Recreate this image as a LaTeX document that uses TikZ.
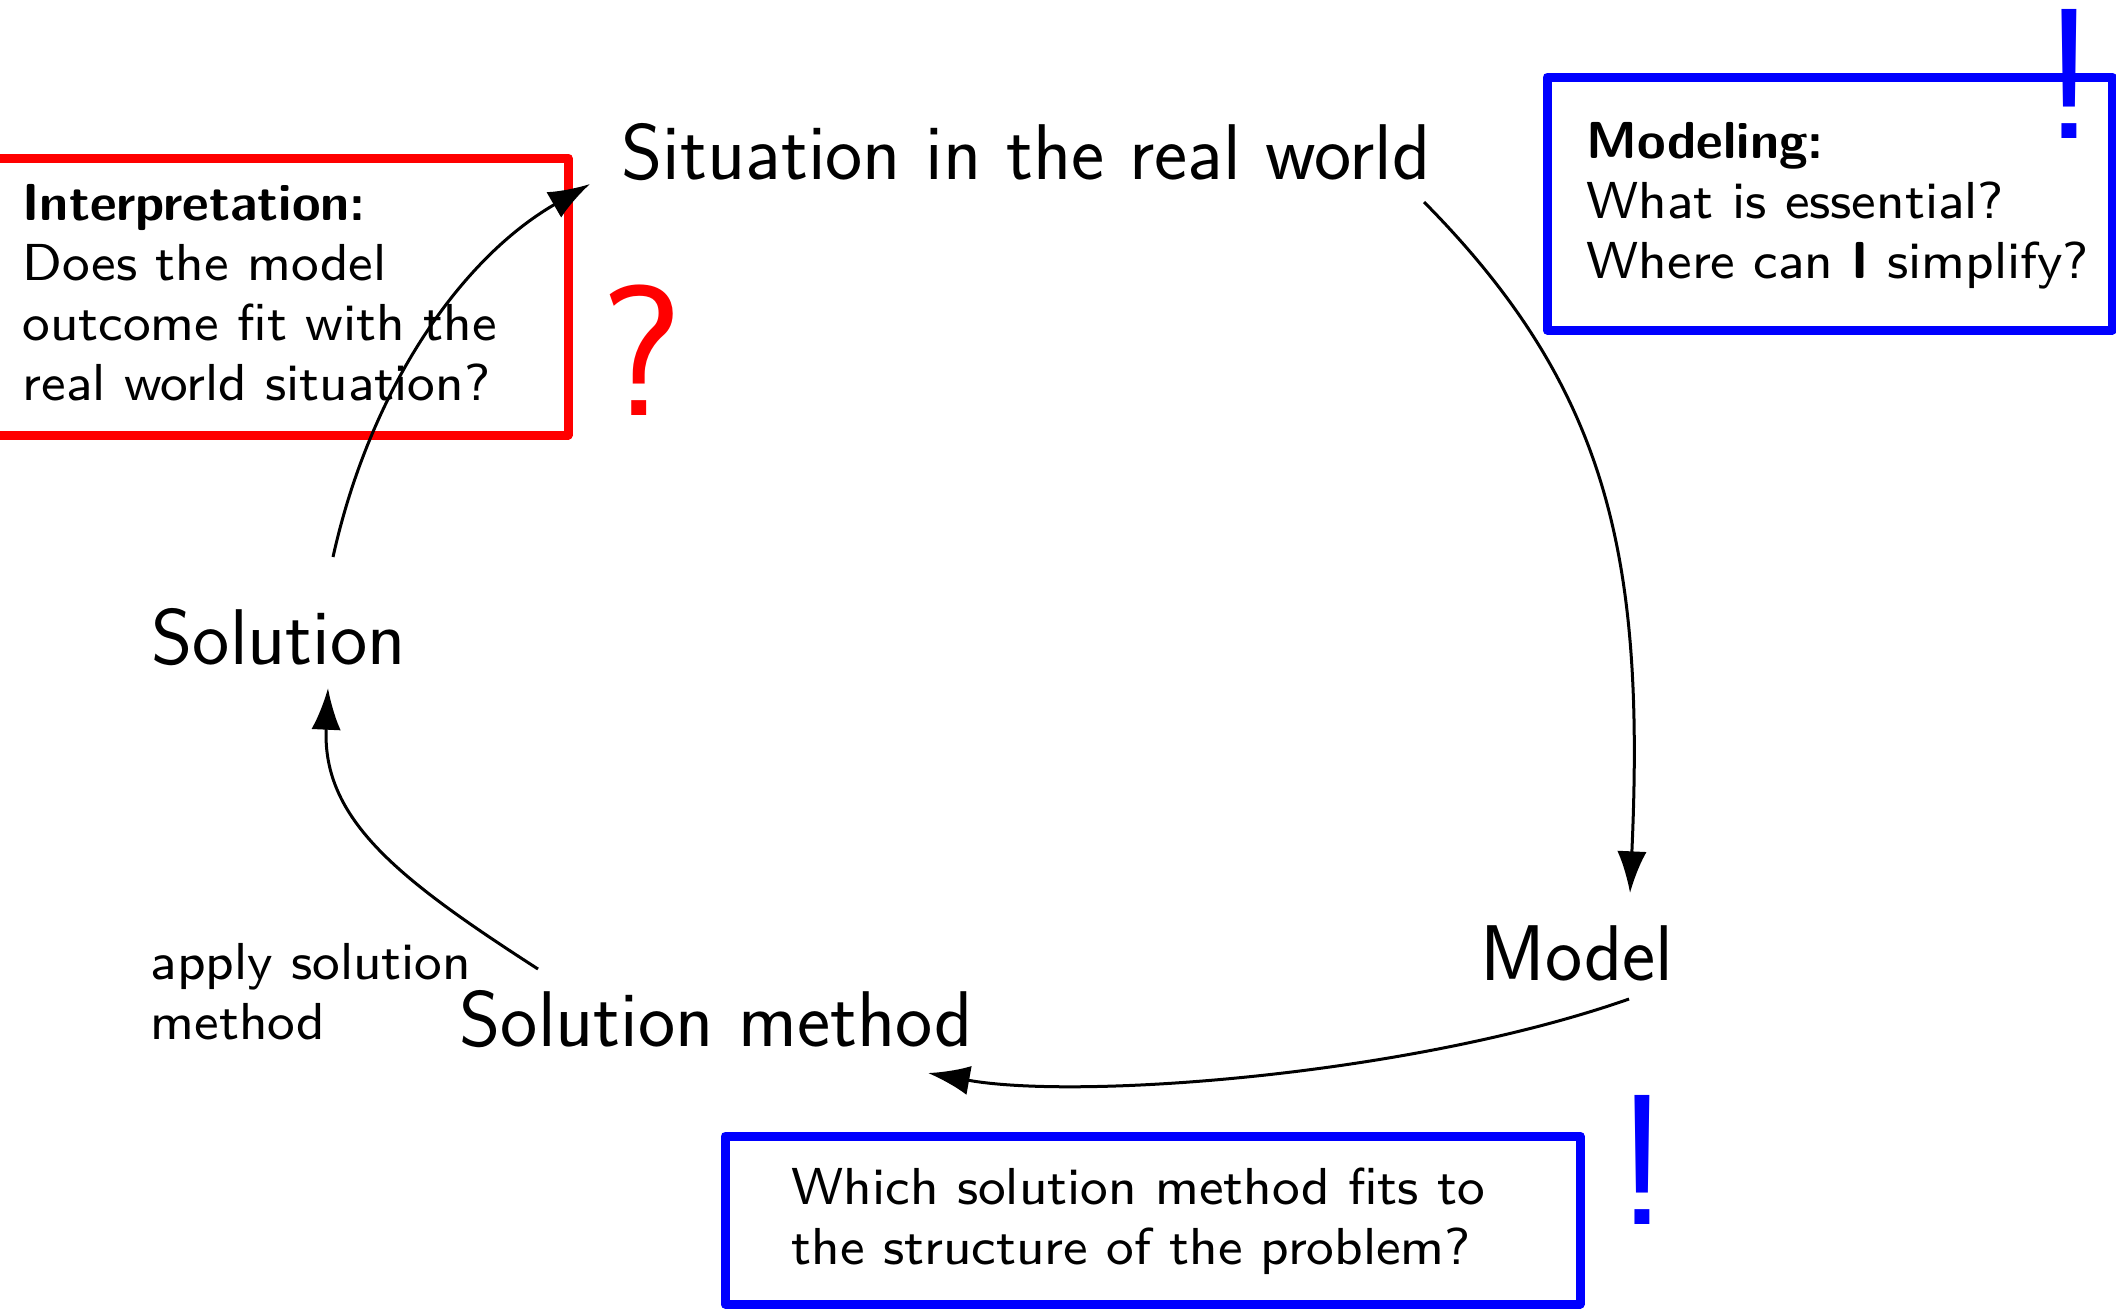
\documentclass[tikz,border=0pt]{standalone}
\usepackage{fontspec}
\usetikzlibrary{arrows.meta,calc}
% small-design Latin Modern Sans for the remarks
\newfontfamily\notefont{lmsans8-regular}[Extension=.otf, BoldFont=lmsans10-bold]
\definecolor{boxred}{RGB}{255,0,0}
\definecolor{boxblue}{RGB}{0,0,255}
\tikzset{
  stage/.style={font=\sffamily\fontsize{23.7}{28}\selectfont, inner sep=0pt, anchor=base west},
  note/.style={font=\notefont\fontsize{15.6}{18}\selectfont, inner sep=0pt, anchor=base west},
  frame/.style={line width=2.7pt, line join=round},
  flow/.style={line width=0.9pt, -{Latex[length=12.5pt,width=8.8pt]}},
  bigsign/.style={font=\sffamily\fontsize{55.8}{60}\selectfont, inner sep=0pt, anchor=base},
}
\begin{document}
\begin{tikzpicture}[x=0.3pt,y=-0.3pt]
\useasboundingbox (0,0) rectangle (2116,1308);
\clip (0,0) rectangle (2116,1308);

% frames of the three remarks
\draw[frame, boxred] (-20,158) rectangle (568,435);
\draw[frame, boxblue] (1547,77) rectangle (2112,330);
\draw[frame, boxblue] (725,1136) rectangle (1580,1304);

% stages of the cycle
\node[stage] (sit) at (621,179) {Situation in the real world};
\node[stage] (model) at (1480,980) {Model};
\node[stage] (method) at (459,1046) {Solution method};
\node[stage] (sol) at (151,664) {Solution};

% remarks
\node[note] (interp) at (22,220) {\begin{tabular}[t]{@{}l@{}}\textbf{Interpretation:}\\Does the model\\outcome fit with the\\real world situation?\end{tabular}};
\node[note] (modeling) at (1586,158) {\begin{tabular}[t]{@{}l@{}}\textbf{Modeling:}\\What is essential?\\Where can \textbf{I} simplify?\end{tabular}};
\node[note] (which) at (791,1204) {\begin{tabular}[t]{@{}l@{}}Which solution method fits to\\the structure of the problem?\end{tabular}};
\node[note] (apply) at (150,979) {\begin{tabular}[t]{@{}l@{}}apply solution\\method\end{tabular}};

% big signs
\node[bigsign, text=boxblue] (bangtop) at (2069,138) {!};
\node[bigsign, text=boxblue] (bangbottom) at (1642,1224) {!};
\node[bigsign, text=boxred] (query) at (642,415) {?};

% cycle arrows
\draw[flow] ($(sit.base west)+(803,23)$) .. controls +(186,188) and +(15,-333) .. ($(model.base west)+(150,-87)$);
\draw[flow] ($(model.base west)+(149,19)$) .. controls +(-220,77) and +(150,27) .. ($(method.base west)+(469,27)$);
\draw[flow] ($(method.base west)+(79,-77)$) .. controls +(-138,-89) and +(-6,132) .. ($(sol.base west)+(177,24)$);
\draw[flow] ($(sol.base west)+(182,-107)$) .. controls +(37,-167) and +(-130,75) .. ($(sit.base west)+(-31,5)$);
\end{tikzpicture}
\end{document}
